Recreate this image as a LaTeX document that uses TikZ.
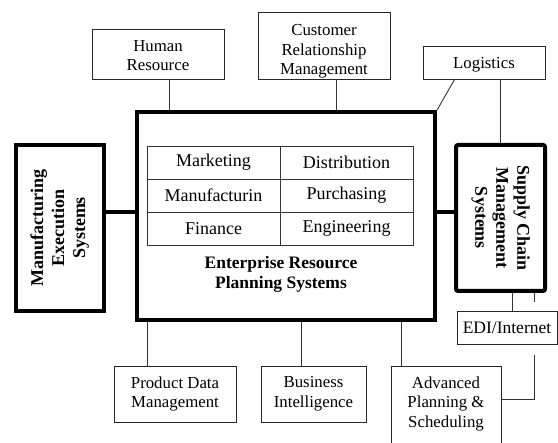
\documentclass[tikz,border=0pt]{standalone}
\usepackage{fontspec}
\setmainfont{Liberation Serif}
% lowers a centred block of lines without changing the box it reports
\newcommand\dropped[2]{\raisebox{-#1}[\height][\depth]{\begin{tabular}{@{}c@{}}#2\end{tabular}}}
\begin{document}
\begin{tikzpicture}[x=1pt,y=-1pt,
  box/.style={draw=black!85, line width=0.9pt, align=center, inner sep=2pt,
    font=\fontsize{16.8}{19.5}\selectfont},
  heavy/.style={draw, line width=4pt, inner sep=0pt,
    font=\bfseries\fontsize{18}{21}\selectfont},
  cell/.style={draw=black!80, line width=0.9pt, minimum width=133pt,
    minimum height=33pt, inner sep=0pt, font=\fontsize{18}{20}\selectfont},
  link/.style={draw=black!80, line width=0.9pt},
  heavy link/.style={draw, line width=4pt}]
\useasboundingbox (0,0) rectangle (558,443);
\clip (0,0) rectangle (558,443);

% top row of satellite systems
\node[box, minimum width=132pt, minimum height=50pt] (hr) at (158,54) {\dropped{3pt}{Human\\Resource}};
\node[box, minimum width=132pt, minimum height=67pt] (crm) at (324,45.5) {\dropped{6pt}{Customer\\Relationship\\Management}};
\node[box, minimum width=122pt, minimum height=33pt] (log) at (484,62.5) {\dropped{2pt}{Logistics}};

% central ERP block
\node[draw, line width=4.6pt, minimum width=298pt, minimum height=208pt] (erp) at (286,216) {};
\node[cell] (mk) at (213.5,162.5) {Marketing};
\node[cell] (ds) at (346.5,162.5) {Distribution};
\node[cell] (mf) at (213.5,195.5) {Manufacturin};
\node[cell] (pu) at (346.5,195.5) {Purchasing};
\node[cell] (fi) at (213.5,228.5) {Finance};
\node[cell] (en) at (346.5,228.5) {Engineering};
\node[align=center, font=\bfseries\fontsize{17.5}{20}\selectfont] (erplabel) at (281,274)
  {Enterprise Resource\\Planning Systems};

% side systems
\node[heavy, minimum width=88pt, minimum height=166pt] (mes) at (60,228)
  {\rotatebox{90}{\begin{tabular}{@{}c@{}}Manufacturing\\Execution\\Systems\end{tabular}}};
\node[heavy, rounded corners=2pt, minimum width=89pt, minimum height=146pt] (scm) at (500.5,218)
  {\rotatebox{-90}{\begin{tabular}{@{}c@{}}Supply Chain\\Management\\Systems\end{tabular}}};
\node[box, minimum width=100pt, minimum height=33pt, font=\fontsize{17.5}{20}\selectfont] (edi) at (507,327.5) {EDI/Internet};

% bottom row
\node[box, minimum width=122pt, minimum height=56pt] (pdm) at (175,394) {Product Data\\Management};
\node[box, minimum width=105pt, minimum height=56pt] (bi) at (313.5,394) {Business\\Intelligence};
\node[box, anchor=north, minimum width=110pt, inner ysep=10pt] (aps) at (446,366)
  {Advanced\\Planning \&\\Scheduling\\\vphantom{X}};

% heavy links to the side systems
\draw[heavy link] ([yshift=16pt]mes.east) -- ([yshift=16pt]mes.east -| erp.west);
\draw[heavy link] ([yshift=4pt]erp.east) -- ([yshift=4pt]erp.east -| scm.west);

% thin links
\draw[link] ([xshift=11pt]hr.south) -- ([xshift=11pt]hr.south |- erp.north);
\draw[link] ([xshift=12pt]crm.south) -- ([xshift=12pt]crm.south |- erp.north);
\draw[link] ([xshift=32pt]log.south west) -- (erp.north east);
\draw[link] (scm.north |- log.south) -- (scm.north);
\draw[link] ([xshift=34pt]pdm.north west |- erp.south) -- ([xshift=34pt]pdm.north west);
\draw[link] ([xshift=41pt]bi.north west |- erp.south) -- ([xshift=41pt]bi.north west);
\draw[link] ([xshift=11pt]aps.north west |- erp.south) -- ([xshift=11pt]aps.north west);
\draw[link] ([xshift=11.5pt]scm.south) -- ([xshift=11.5pt]scm.south |- edi.north);
\coordinate (stub) at ([xshift=33.5pt,yshift=-9pt]scm.south);
\draw[link] (scm.south -| stub) -- (stub);
\coordinate (apsin) at ([xshift=27pt,yshift=-11pt]edi.south);
\draw[link] (apsin) |- ([yshift=-33pt]aps.north east);
\end{tikzpicture}
\end{document}
